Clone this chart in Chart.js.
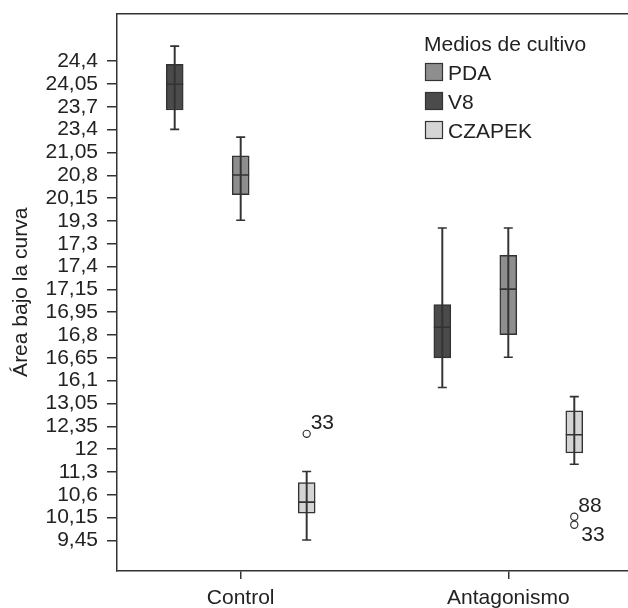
<!DOCTYPE html>
<html>
<head>
<meta charset="utf-8">
<script src="https://cdn.jsdelivr.net/npm/chart.js@4.4.1/dist/chart.umd.min.js"></script>
<style>
  html, body { margin: 0; padding: 0; background: #fff; }
  canvas { display: block; }
</style>
</head>
<body>
<canvas id="boxChart" width="628" height="608"></canvas>
<script>
const categories = ['Control', 'Antagonismo'];
const media = ['PDA', 'V8', 'CZAPEK'];

// tick labels from the bottom of the axis to the top (equally spaced)
const yLabels = ['9,45', '10,15', '10,6', '11,3', '12', '12,35', '13,05', '16,1', '16,65',
  '16,8', '16,95', '17,15', '17,4', '17,3', '19,3', '20,15', '20,8', '21,05', '23,4',
  '23,7', '24,05', '24,4'];

// [min, q1, median, q3, max] per category, in axis positions
const pdaStats = [[14.03, 15.15, 16.01, 16.85, 17.67], [8.03, 9.02, 11.01, 12.49, 13.69]];
const v8Stats = [[18.01, 18.86, 19.99, 20.86, 21.66], [6.70, 8.00, 9.34, 10.33, 13.69]];
const czapekStats = [[0.02, 1.20, 1.68, 2.54, 3.02], [3.34, 3.83, 4.63, 5.68, 6.30]];

const outlierMedium = ['CZAPEK', 'CZAPEK', 'CZAPEK'];
const outlierCategory = ['Control', 'Antagonismo', 'Antagonismo'];
const outlierValues = [4.67, 1.04, 0.69];
const outlierIds = ['33', '88', '33'];

const stats = { PDA: pdaStats, V8: v8Stats, CZAPEK: czapekStats };
const colors = { PDA: '#8e8e8e', V8: '#4b4b4b', CZAPEK: '#d4d4d4' };
const shift = { V8: -0.2466, PDA: 0, CZAPEK: 0.2466 };
const ink = '#333333';
const txt = '#222222';
const FONT = '"Liberation Sans", Arial, sans-serif';

const xOf = (cat, m) => categories.indexOf(cat) + 1 + shift[m];

const boxSets = media.map(m => ({
  type: 'bar',
  label: m,
  data: categories.map((c, i) => ({ x: xOf(c, m), y: [stats[m][i][1], stats[m][i][3]] })),
  backgroundColor: colors[m],
  borderColor: ink,
  borderWidth: 1.5,
  borderSkipped: false,
  barThickness: 17,
  grouped: false,
  order: 3
}));

const whiskers = [], medians = [], caps = [];
media.forEach(m => {
  categories.forEach((c, i) => {
    const s = stats[m][i];
    whiskers.push({ x: xOf(c, m), y: [s[0], s[4]] });
    medians.push({ x: xOf(c, m), y: s[2] });
    caps.push({ x: xOf(c, m), y: s[0] });
    caps.push({ x: xOf(c, m), y: s[4] });
  });
});

const outlierPts = outlierValues.map((v, i) => ({
  x: xOf(outlierCategory[i], outlierMedium[i]), y: v, id: outlierIds[i]
}));

// no extra room for tick labels at the ends of the axes
const noPad = s => { s.paddingTop = 0; s.paddingBottom = 0; s.paddingLeft = 0; s.paddingRight = 0; };

const overlay = {
  id: 'overlay',
  afterDraw(chart) {
    const ctx = chart.ctx;
    ctx.save();
    ctx.font = '21px ' + FONT;
    ctx.fillStyle = txt;
    ctx.textBaseline = 'alphabetic';
    ctx.textAlign = 'left';

    // legend inside the plot
    ctx.fillText('Medios de cultivo', 424, 51);
    media.forEach((m, i) => {
      const top = 63 + 29 * i;
      ctx.fillStyle = colors[m];
      ctx.fillRect(425, top, 18, 18);
      ctx.strokeStyle = ink;
      ctx.lineWidth = 1.2;
      ctx.strokeRect(425.5, top + 0.5, 17, 17);
      ctx.fillStyle = txt;
      ctx.fillText(m, 448, top + 17);
    });

    // outlier case numbers
    const meta = chart.getDatasetMeta(chart.data.datasets.length - 1);
    meta.data.forEach((el, i) => {
      const p = outlierPts[i];
      const below = outlierPts.some((q, j) => j !== i && q.x === p.x && q.y > p.y);
      if (below) ctx.fillText(p.id, el.x + 7, el.y + 16);
      else ctx.fillText(p.id, el.x + 4, el.y - 5);
    });
    ctx.restore();
  }
};

new Chart(document.getElementById('boxChart').getContext('2d'), {
  type: 'bar',
  data: {
    datasets: [
      ...boxSets,
      {
        type: 'bar',
        label: 'whiskers',
        data: whiskers,
        backgroundColor: ink,
        borderWidth: 0,
        barThickness: 1.3,
        grouped: false,
        order: 2
      },
      {
        type: 'scatter',
        label: 'medians',
        data: medians,
        pointStyle: 'line',
        pointRadius: 8.5,
        borderColor: ink,
        borderWidth: 1.6,
        order: 1
      },
      {
        type: 'scatter',
        label: 'caps',
        data: caps,
        pointStyle: 'line',
        pointRadius: 4.5,
        borderColor: ink,
        borderWidth: 1.6,
        order: 1
      },
      {
        type: 'scatter',
        label: 'outliers',
        data: outlierPts,
        pointStyle: 'circle',
        pointRadius: 3.6,
        backgroundColor: '#ffffff',
        borderColor: ink,
        borderWidth: 1.2,
        order: 0
      }
    ]
  },
  options: {
    responsive: false,
    animation: false,
    devicePixelRatio: 1,
    layout: { autoPadding: false, padding: { top: 13.5, right: 0, left: 0, bottom: 0 } },
    plugins: {
      legend: { display: false },
      tooltip: { enabled: false }
    },
    scales: {
      x: {
        type: 'linear',
        position: 'bottom',
        min: 0.5378,
        max: 2.4473,
        offset: false,
        afterBuildTicks: s => { s.ticks = categories.map((_, i) => ({ value: i + 1 })); },
        afterFit: s => { s.height = 37; noPad(s); },
        grid: { drawOnChartArea: false, offset: false, tickLength: 8, color: ink, lineWidth: 1.5 },
        border: { display: true, color: ink, width: 1.5 },
        ticks: {
          autoSkip: false,
          maxRotation: 0,
          padding: 7,
          color: txt,
          font: { family: FONT, size: 21 },
          callback: v => categories[v - 1] || ''
        }
      },
      xTop: {
        type: 'linear',
        position: 'top',
        min: 0.5378,
        max: 2.4473,
        afterFit: s => { s.height = 0; noPad(s); },
        grid: { display: false },
        border: { display: true, color: ink, width: 1.5 },
        ticks: { display: false }
      },
      y: {
        type: 'linear',
        position: 'left',
        min: -1.339,
        max: 23.089,
        afterBuildTicks: s => { s.ticks = yLabels.map((_, k) => ({ value: k })); },
        afterFit: s => { s.width = 117; noPad(s); },
        grid: { drawOnChartArea: false, tickLength: 10, color: ink, lineWidth: 1.5 },
        border: { display: true, color: ink, width: 1.5 },
        ticks: {
          autoSkip: false,
          padding: 9,
          color: txt,
          font: { family: FONT, size: 21 },
          callback: v => yLabels[v] || ''
        },
        title: {
          display: true,
          text: 'Área bajo la curva',
          color: txt,
          font: { family: FONT, size: 21 },
          padding: { top: 9, bottom: 0 }
        }
      }
    }
  },
  plugins: [overlay]
});
</script>
</body>
</html>
